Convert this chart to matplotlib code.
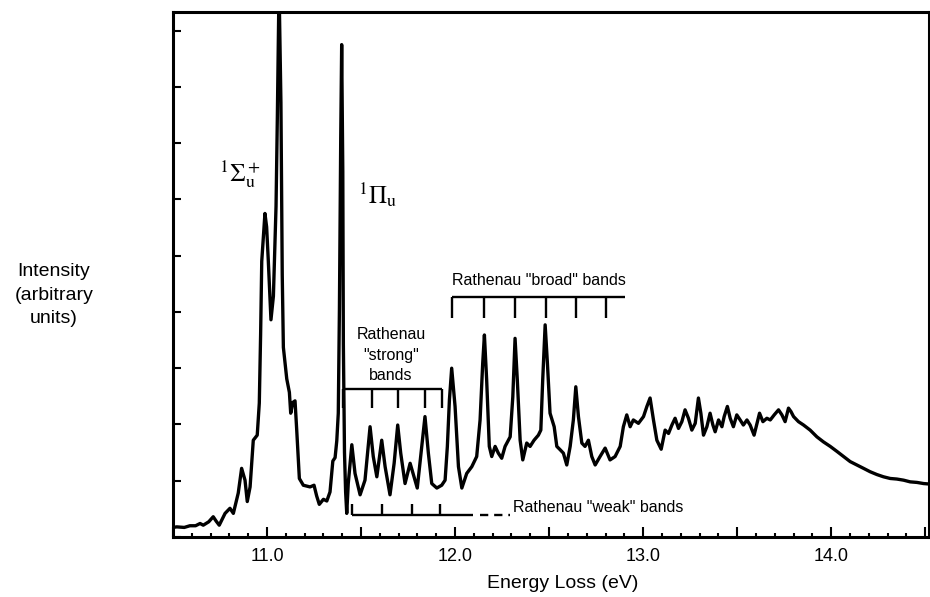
import matplotlib
matplotlib.use("Agg")
import matplotlib.pyplot as plt
from matplotlib.ticker import MultipleLocator, FuncFormatter

# spectrum (energy loss in eV, intensity arb. units)
energy = [
    10.50, 10.52, 10.56, 10.59, 10.62, 10.644, 10.661, 10.69, 10.714, 10.73,
    10.746, 10.777, 10.803, 10.821, 10.847, 10.865, 10.883, 10.895, 10.910, 10.927,
    10.948, 10.959, 10.966, 10.972, 10.980, 10.989, 10.998, 11.007, 11.021, 11.034,
    11.048, 11.055, 11.064, 11.074, 11.081, 11.087, 11.105, 11.119, 11.126, 11.137,
    11.149, 11.158, 11.172, 11.193, 11.229, 11.250, 11.264, 11.278, 11.300, 11.318,
    11.335, 11.350, 11.362, 11.371, 11.379, 11.385, 11.392, 11.397, 11.403, 11.406,
    11.412, 11.418, 11.424, 11.432, 11.451, 11.468, 11.495, 11.521, 11.548, 11.565,
    11.584, 11.610, 11.628, 11.654, 11.676, 11.695, 11.711, 11.734, 11.761, 11.782,
    11.799, 11.823, 11.840, 11.858, 11.876, 11.903, 11.929, 11.947, 11.959, 11.970,
    11.982, 12.000, 12.018, 12.036, 12.062, 12.089, 12.115, 12.133, 12.147, 12.156,
    12.168, 12.182, 12.195, 12.213, 12.230, 12.248, 12.266, 12.293, 12.307, 12.319,
    12.331, 12.346, 12.360, 12.381, 12.399, 12.420, 12.443, 12.456, 12.466, 12.479,
    12.491, 12.505, 12.527, 12.541, 12.559, 12.576, 12.594, 12.612, 12.629, 12.642,
    12.656, 12.674, 12.691, 12.709, 12.727, 12.745, 12.771, 12.798, 12.824, 12.851,
    12.878, 12.895, 12.913, 12.931, 12.948, 12.975, 13.002, 13.020, 13.037, 13.055,
    13.073, 13.096, 13.117, 13.135, 13.153, 13.170, 13.188, 13.206, 13.223, 13.241,
    13.259, 13.277, 13.294, 13.307, 13.321, 13.339, 13.356, 13.371, 13.383, 13.401,
    13.419, 13.431, 13.448, 13.463, 13.480, 13.498, 13.516, 13.533, 13.552, 13.569,
    13.590, 13.608, 13.619, 13.637, 13.658, 13.676, 13.697, 13.720, 13.738, 13.755,
    13.773, 13.786, 13.800, 13.826, 13.853, 13.888, 13.924, 13.959, 13.995, 14.031,
    14.066, 14.101, 14.137, 14.172, 14.207, 14.243, 14.278, 14.314, 14.349, 14.385,
    14.420, 14.456, 14.491, 14.527,
]
intensity = [
    0.17, 0.18, 0.17, 0.20, 0.20, 0.24, 0.21, 0.27, 0.36, 0.28,
    0.21, 0.42, 0.51, 0.42, 0.78, 1.22, 1.01, 0.63, 0.89, 1.72,
    1.81, 2.38, 3.60, 4.90, 5.30, 5.75, 5.51, 4.90, 3.86, 4.28,
    5.88, 7.47, 9.80, 7.72, 4.66, 3.37, 2.81, 2.57, 2.20, 2.39,
    2.42, 1.90, 1.04, 0.92, 0.89, 0.92, 0.73, 0.58, 0.67, 0.64,
    0.80, 1.35, 1.41, 1.71, 2.20, 4.04, 7.10, 8.75, 6.49, 3.43,
    1.50, 0.80, 0.42, 0.95, 1.64, 1.13, 0.75, 1.01, 1.96, 1.43,
    1.07, 1.72, 1.25, 0.75, 1.31, 1.99, 1.49, 0.95, 1.31, 1.07,
    0.87, 1.61, 2.14, 1.49, 0.95, 0.87, 0.92, 1.01, 1.61, 2.44,
    3.00, 2.32, 1.25, 0.87, 1.13, 1.25, 1.43, 2.08, 3.09, 3.59,
    2.79, 1.61, 1.43, 1.61, 1.49, 1.40, 1.61, 1.78, 2.49, 3.53,
    2.79, 1.72, 1.37, 1.67, 1.61, 1.72, 1.81, 1.90, 2.79, 3.77,
    3.09, 2.20, 1.96, 1.61, 1.55, 1.49, 1.28, 1.61, 2.08, 2.67,
    2.14, 1.67, 1.61, 1.72, 1.43, 1.28, 1.43, 1.58, 1.37, 1.43,
    1.61, 1.96, 2.17, 1.96, 2.08, 2.02, 2.14, 2.32, 2.47, 2.08,
    1.72, 1.56, 1.90, 1.84, 1.99, 2.11, 1.93, 2.05, 2.26, 2.11,
    1.90, 2.02, 2.47, 2.20, 1.81, 1.96, 2.20, 1.99, 1.87, 2.08,
    1.96, 2.14, 2.32, 2.11, 1.96, 2.17, 2.08, 1.99, 2.08, 1.99,
    1.81, 2.05, 2.20, 2.05, 2.11, 2.08, 2.17, 2.26, 2.17, 2.05,
    2.29, 2.23, 2.14, 2.05, 1.99, 1.90, 1.78, 1.69, 1.61, 1.52,
    1.43, 1.34, 1.28, 1.22, 1.16, 1.11, 1.07, 1.04, 1.03, 1.01,
    0.98, 0.97, 0.95, 0.94,
]

# band progressions (eV)
strong_bands = [11.406, 11.557, 11.698, 11.840, 11.929]
broad_bands = [11.982, 12.154, 12.319, 12.484, 12.641, 12.801]
broad_end = 12.904
weak_bands = [11.452, 11.610, 11.770, 11.920]
weak_end = 12.093
weak_dash = [12.133, 12.293]

plt.rcParams['font.family'] = ['Liberation Sans', 'DejaVu Sans']
plt.rcParams['mathtext.fontset'] = 'stix'

fig = plt.figure(figsize=(9.3, 5.97), dpi=100)
ax = fig.add_axes([0.186, 0.1005, 0.8129, 0.8794])

ax.plot(energy, intensity, color='black', lw=2.4, solid_joinstyle='round')

# bracket levels
s_top, s_bot = 2.63, 2.29
b_top, b_bot = 4.27, 3.89
w_base, w_tip = 0.39, 0.59
lw_b = 1.7
ax.hlines(s_top, strong_bands[0], strong_bands[-1], color='black', lw=lw_b)
ax.vlines(strong_bands, s_bot, s_top, color='black', lw=lw_b)
ax.hlines(b_top, broad_bands[0], broad_end, color='black', lw=lw_b)
ax.vlines(broad_bands, b_bot, b_top, color='black', lw=lw_b)
ax.hlines(w_base, weak_bands[0], weak_end, color='black', lw=lw_b)
ax.vlines(weak_bands, w_base, w_tip, color='black', lw=lw_b)
ax.plot(weak_dash, [w_base, w_base], color='black', lw=lw_b, dashes=(3.5, 2.5))

ax.text(11.66, 3.23, 'Rathenau\n"strong"\nbands', ha='center', va='center',
        fontsize=11.5, linespacing=1.45)
ax.text(11.985, 4.55, 'Rathenau "broad" bands', ha='left', va='center', fontsize=11.5)
ax.text(12.309, 0.53, 'Rathenau "weak" bands', ha='left', va='center', fontsize=11.5)

ax.text(10.856, 6.45, r'$^1\Sigma_\mathrm{u}^+$', ha='center', va='center', fontsize=18)
ax.text(11.59, 6.08, r'$^1\Pi_\mathrm{u}$', ha='center', va='center', fontsize=18)

ax.set_xlim(10.5, 14.52)
ax.set_ylim(0, 9.33)

ax.xaxis.set_major_locator(MultipleLocator(0.5))
ax.xaxis.set_minor_locator(MultipleLocator(0.1))
ax.xaxis.set_major_formatter(FuncFormatter(
    lambda v, p: f'{v:.1f}' if abs(v - round(v)) < 1e-6 else ''))
ax.yaxis.set_major_locator(MultipleLocator(1))
ax.yaxis.set_major_formatter(FuncFormatter(lambda v, p: ''))

ax.tick_params(axis='x', which='major', direction='in', length=7, width=1.5,
               labelsize=13, pad=8, top=False)
ax.tick_params(axis='x', which='minor', direction='in', length=3, width=1.5, top=False)
ax.tick_params(axis='y', which='major', direction='in', length=6, width=1.5, right=False)

for sp in ax.spines.values():
    sp.set_linewidth(2.2)

ax.set_xlabel('Energy Loss (eV)', fontsize=14)
ax.xaxis.label.set_va('center')
ax.xaxis.set_label_coords(0.516, -0.0895)

fig.text(54 / 930, 1 - 295 / 597, 'Intensity\n(arbitrary\nunits)', ha='center',
         va='center', fontsize=14, linespacing=1.5)

fig.savefig('out.png', dpi=100)
